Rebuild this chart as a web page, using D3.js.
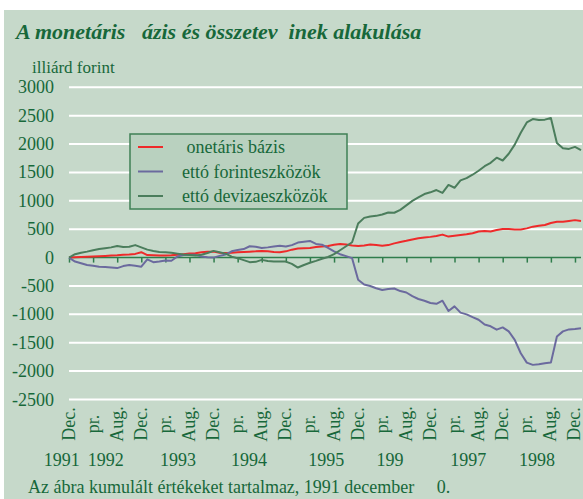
<!DOCTYPE html>
<html><head><meta charset="utf-8">
<script src="https://cdnjs.cloudflare.com/ajax/libs/d3/7.8.5/d3.min.js"></script>
<style>
html,body{margin:0;padding:0;background:#fff;}
svg{display:block;}
text{font-family:"Liberation Serif","Times New Roman",serif;fill:#17683a;}
</style></head>
<body>
<script>
// ---- data ----
const monthLabels = ["Dec.","pr.","Aug.","Dec.","pr.","Aug.","Dec.","pr.","Aug.","Dec.","pr.","Aug.","Dec.","pr.","Aug.","Dec.","pr.","Aug.","Dec.","pr.","Aug.","Dec."];
const yearLabels = ["1991","1992","1993","1994","1995","199","1997","1998"];
const yearPos = [-1.2, 6.1, 18.1, 29.9, 42.7, 53.3, 66.3, 77.7];
const yTicks = [3000,2500,2000,1500,1000,500,0,-500,-1000,-1500,-2000,-2500];
const seriesNames = [" onetáris bázis","ettó forinteszközök","ettó devizaeszközök"];
const monetarisBazis = [0,5,10,15,20,25,30,35,40,50,55,65,95,45,40,35,35,40,50,60,70,75,95,105,105,85,80,85,95,100,105,110,118,110,100,95,110,140,160,165,170,185,195,205,225,240,230,215,205,215,230,220,210,220,250,275,295,320,340,355,365,380,405,370,385,400,410,430,460,470,460,485,505,505,495,495,515,545,560,575,610,630,630,645,660,645];
const forintEszkozok = [0,-70,-100,-130,-145,-160,-165,-175,-185,-150,-130,-145,-160,-30,-80,-70,-50,-55,20,45,48,48,20,5,0,30,55,110,135,150,200,190,170,180,195,210,195,220,265,280,293,240,228,170,110,60,25,-10,-390,-475,-500,-540,-570,-555,-545,-590,-615,-680,-730,-760,-800,-815,-760,-940,-860,-970,-1000,-1050,-1095,-1180,-1210,-1270,-1230,-1300,-1450,-1685,-1850,-1890,-1880,-1860,-1850,-1390,-1300,-1265,-1260,-1245];
const devizaEszkozok = [0,60,85,105,130,150,165,180,205,185,190,220,180,140,115,100,95,85,70,55,45,35,50,80,118,95,70,17,-10,-45,-80,-75,-40,-60,-70,-70,-70,-110,-175,-130,-90,-58,-20,10,60,130,200,270,600,700,725,735,760,795,790,840,920,1000,1060,1120,1150,1190,1140,1280,1230,1360,1400,1460,1530,1610,1670,1760,1710,1830,1990,2200,2380,2440,2425,2430,2460,2020,1925,1915,1950,1895];

// ---- layout ----
const W = 583, H = 499;
const colors = ["#ee2a2a", "#6b6a9e", "#4b7d5c"];
const svg = d3.select("body").append("svg").attr("width", W).attr("height", H);
svg.append("rect").attr("x",4).attr("y",10).attr("width",W-4).attr("height",H-10).attr("fill","#c6d9ca");

const x = d3.scaleLinear().domain([0, 85]).range([69, 581]);
const y = d3.scaleLinear().domain([-2500, 3000]).range([399.5, 87.3]);

// grid lines
svg.append("g").selectAll("line").data(yTicks.filter(d=>d!==0)).join("line")
  .attr("x1",69).attr("x2",582).attr("y1",d=>y(d)).attr("y2",d=>y(d))
  .attr("stroke","#ffffff").attr("stroke-width",2);

// y tick labels
svg.append("g").selectAll("text").data(yTicks).join("text")
  .attr("x",54).attr("y",d=>y(d)+6).attr("text-anchor","end")
  .style("font-size","18px").text(d=>d);

// x axis at zero
const tickIdx = d3.range(0, 85, 4);
const xAxis = d3.axisBottom(x).tickValues(tickIdx).tickSize(5).tickFormat("");
const gx = svg.append("g").attr("transform",`translate(0,${y(0)})`).call(xAxis);
gx.select(".domain").attr("stroke","#2f7d4c").attr("stroke-width",1.5).attr("d",`M69,0H581`);
gx.selectAll(".tick line").attr("stroke","#2f7d4c").attr("stroke-width",1.5);

// lines
const line = d3.line().x((d,i)=>x(i)).y(d=>y(d));
[monetarisBazis, forintEszkozok, devizaEszkozok].forEach((s,k)=>{
  svg.append("path").datum(s).attr("d",line).attr("fill","none")
    .attr("stroke",colors[k]).attr("stroke-width",2).attr("stroke-linejoin","round");
});

// month labels
svg.append("g").selectAll("text").data(monthLabels).join("text")
  .attr("transform",(d,i)=>`translate(${x(tickIdx[i])+5.5},424) rotate(-90)`)
  .attr("text-anchor","middle").style("font-size","18px").text(d=>d);

// year labels
svg.append("g").selectAll("text").data(yearLabels).join("text")
  .attr("x",(d,i)=>x(yearPos[i])).attr("y",466).attr("text-anchor","middle")
  .style("font-size","18px").text(d=>d);

// title
svg.append("text").attr("x",16).attr("y",39).style("font-size","22px")
  .style("font-weight","bold").style("font-style","italic").style("white-space","pre")
  .text("A monetáris   ázis és összetev  inek alakulása");
svg.append("text").attr("x",32).attr("y",73).style("font-size","17px").text("illiárd forint");

// footnote
svg.append("text").attr("x",28).attr("y",493).style("font-size","18px").style("white-space","pre")
  .text("Az ábra kumulált értékeket tartalmaz, 1991 december     0.");

// legend
const lg = svg.append("g");
lg.append("rect").attr("x",130).attr("y",134).attr("width",217).attr("height",75)
  .attr("fill","#b9d1bf").attr("stroke","#3f8056").attr("stroke-width",1.5);
seriesNames.forEach((name,k)=>{
  const yy = 147 + k*24.5;
  lg.append("line").attr("x1",138).attr("x2",163).attr("y1",yy).attr("y2",yy)
    .attr("stroke",colors[k]).attr("stroke-width",2);
  lg.append("text").attr("x",182).attr("y",yy+6).style("font-size","18px").style("white-space","pre").text(name);
});
</script>
</body></html>
